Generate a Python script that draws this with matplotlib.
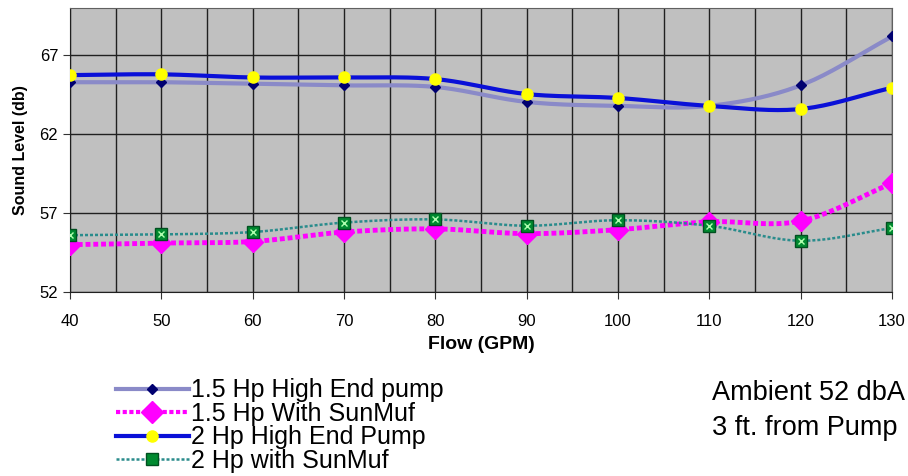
import numpy as np
import matplotlib
matplotlib.use("Agg")
import matplotlib.pyplot as plt
from matplotlib.lines import Line2D

plt.rcParams["font.family"] = ["Liberation Sans", "DejaVu Sans"]

# data
flow = [40, 50, 60, 70, 80, 90, 100, 110, 120, 130]
hp15_high = [65.3, 65.3, 65.2, 65.1, 65.0, 64.05, 63.8, 63.8, 65.1, 68.2]
hp15_muf = [55.0, 55.1, 55.2, 55.8, 56.0, 55.7, 55.95, 56.45, 56.5, 58.9]
hp2_high = [65.75, 65.8, 65.6, 65.6, 65.5, 64.55, 64.3, 63.8, 63.6, 64.95]
hp2_muf = [55.6, 55.65, 55.8, 56.4, 56.6, 56.2, 56.55, 56.2, 55.25, 56.05]
labels = ["1.5 Hp High End pump", "1.5 Hp With SunMuf",
          "2 Hp High End Pump", "2 Hp with SunMuf"]


# smooth line through the points (like excel "smoothed line")
def smooth(x, y, n=20):
    x = np.asarray(x, float)
    y = np.asarray(y, float)
    px = np.concatenate([[2 * x[0] - x[1]], x, [2 * x[-1] - x[-2]]])
    py = np.concatenate([[2 * y[0] - y[1]], y, [2 * y[-1] - y[-2]]])
    xs, ys = [], []
    t = np.linspace(0, 1, n, endpoint=False)
    for i in range(1, len(px) - 2):
        for p, out in ((px, xs), (py, ys)):
            p0, p1, p2, p3 = p[i - 1], p[i], p[i + 1], p[i + 2]
            out.extend(0.5 * (2 * p1 + (-p0 + p2) * t
                              + (2 * p0 - 5 * p1 + 4 * p2 - p3) * t ** 2
                              + (-p0 + 3 * p1 - 3 * p2 + p3) * t ** 3))
    xs.append(x[-1])
    ys.append(y[-1])
    return xs, ys


fig = plt.figure(figsize=(9.08, 4.76), dpi=100)
ax = fig.add_axes([0.0771, 0.3866, 0.9053, 0.5964])
ax.set_facecolor("#C0C0C0")

# series 1
sx, sy = smooth(flow, hp15_high)
ax.plot(sx, sy, color="#8A8AC8", lw=3, zorder=3)
ax.plot(flow, hp15_high, ls="none", marker="D", ms=5, color="#000070", zorder=4)

# series 2
sx, sy = smooth(flow, hp15_muf)
ax.plot(sx, sy, color="#FF00FF", lw=3.5, ls=(0, (1, 0.6)), zorder=3)
ax.plot(flow, hp15_muf, ls="none", marker="D", ms=10, color="#FF00FF", zorder=4)

# series 3
sx, sy = smooth(flow, hp2_high)
ax.plot(sx, sy, color="#0A10D8", lw=3, zorder=5)
ax.plot(flow, hp2_high, ls="none", marker="o", ms=8, color="#FFFF00", zorder=6)

# series 4
sx, sy = smooth(flow, hp2_muf)
ax.plot(sx, sy, color="#2A8C8C", lw=1.8, ls=(0, (1.2, 0.8)), zorder=5)
ax.plot(flow, hp2_muf, ls="none", marker="s", ms=9, color="#008A30",
        mec="#005020", zorder=6)
ax.plot(flow, hp2_muf, ls="none", marker="x", ms=5, mew=1, color="#B0FFB0", zorder=7)

ax.set_xlim(40, 130)
ax.set_ylim(52, 70)
ax.set_xticks(range(40, 131, 10))
ax.set_xticks(range(45, 130, 10), minor=True)
ax.set_yticks([52, 57, 62, 67])
ax.grid(True, which="both", axis="x", color="#202020", lw=1)
ax.grid(True, which="major", axis="y", color="#202020", lw=1)
ax.set_axisbelow(True)
ax.tick_params(axis="both", labelsize=12, direction="out", length=5, color="#333333")
ax.tick_params(axis="x", which="minor", length=0)
ax.tick_params(axis="x", pad=11)
for s in ax.spines.values():
    s.set_color("#606060")
ax.spines["bottom"].set_color("#202020")
ax.spines["left"].set_color("#202020")

ax.set_xlabel("Flow (GPM)", fontsize=14, fontweight="bold", labelpad=5)
ax.set_ylabel("Sound Level (db)", fontsize=11.5, fontweight="bold", labelpad=8)

handles = [
    Line2D([], [], color="#8A8AC8", lw=3, marker="D", ms=5, mfc="#000070", mec="#000070"),
    Line2D([], [], color="#FF00FF", lw=3, ls=(0, (1, 0.6)), marker="D", ms=11),
    Line2D([], [], color="#0A10D8", lw=3, marker="o", ms=8, mfc="#FFFF00", mec="#FFFF00"),
    Line2D([], [], color="#2A8C8C", lw=1.8, ls=(0, (1.2, 0.8)), marker="s", ms=8,
           mfc="#008A30", mec="#005020"),
]
fig.legend(handles, labels, loc="upper left", bbox_to_anchor=(0.128, 0.205),
           frameon=False, fontsize=18, handlelength=2.9, handletextpad=0.1,
           labelspacing=-0.02, borderpad=0, borderaxespad=0)

fig.text(0.784, 0.174, "Ambient 52 dbA", fontsize=19.5, va="center")
fig.text(0.784, 0.100, "3 ft. from Pump", fontsize=19.5, va="center")

fig.savefig("out.png", dpi=100)
